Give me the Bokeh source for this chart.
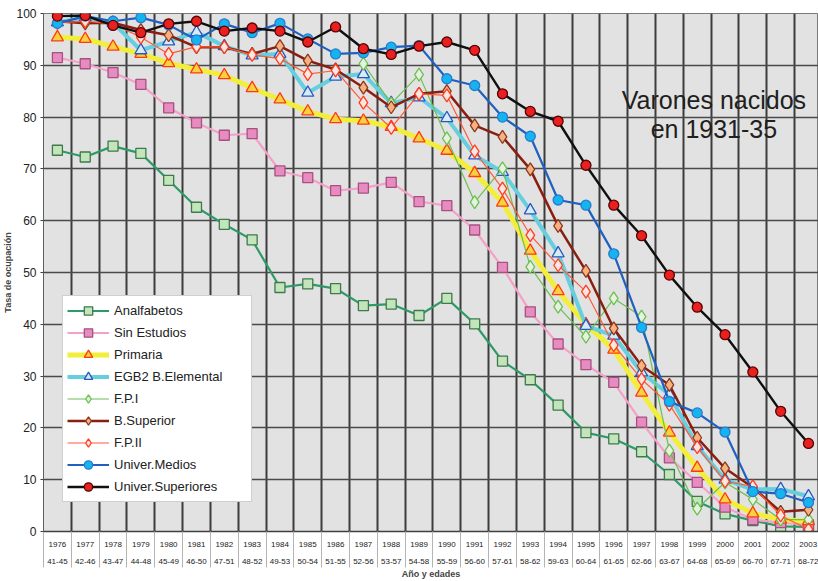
import numpy as np
from bokeh.plotting import figure
from bokeh.models import FixedTicker, Range1d, Legend, LegendItem, Label
from bokeh.embed import file_html
from bokeh.resources import INLINE

years = [str(y) for y in range(1976, 2004)]
ages = ["41-45", "42-46", "43-47", "44-48", "45-49", "46-50", "47-51", "48-52",
        "49-53", "50-54", "51-55", "52-56", "53-57", "54-58", "55-59", "56-60",
        "57-61", "58-62", "59-63", "60-64", "61-65", "62-66", "63-67", "64-68",
        "65-69", "66-70", "67-71", "68-72"]

analfabetos = [73.6, 72.3, 74.4, 73.0, 67.8, 62.6, 59.3, 56.3, 47.1, 47.8, 46.9, 43.6, 43.9, 41.7,
               45.0, 40.1, 32.9, 29.3, 24.4, 19.1, 17.9, 15.4, 11.0, 5.8, 3.4, 2.1, 1.0, 0.9]
sin_estudios = [91.5, 90.3, 88.6, 86.3, 81.8, 78.9, 76.5, 76.8, 69.6, 68.3, 65.8, 66.3, 67.4, 63.7,
                62.9, 58.2, 51.0, 42.4, 36.2, 32.2, 28.8, 21.1, 14.2, 9.5, 4.7, 2.3, 1.7, 1.3]
primaria = [95.4, 95.1, 93.6, 92.2, 90.4, 89.2, 88.1, 85.6, 83.4, 81.1, 79.6, 79.3, 78.1, 75.9,
            73.5, 69.2, 63.5, 54.2, 46.4, 40.0, 35.1, 26.8, 19.1, 12.3, 6.2, 3.5, 2.3, 2.0]
egb2 = [98.3, 99.2, 98.2, 92.9, 94.6, 96.4, 93.7, 91.9, 92.2, 84.7, 87.8, 88.3, 82.7, 83.8,
        79.8, 72.6, 69.4, 62.0, 53.7, 39.7, 37.8, 30.7, 26.4, 16.5, 10.0, 8.1, 8.2, 6.8]
fp1 = [None] * 11 + [90.3, 82.6, 88.2, 75.9, 63.6, 70.1, 51.1, 43.4, 37.6, 45.0, 41.5, 15.6, 4.4,
                     9.5, 6.2, 2.3, 2.3]
b_superior = [98.5, 98.1, 98.2, 96.8, 95.8, 93.5, 93.5, 92.2, 93.7, 90.9, 89.2, 85.7, 81.9, 84.5,
              85.0, 78.4, 76.2, 69.9, 59.0, 50.3, 39.2, 32.0, 28.3, 18.1, 12.2, 8.5, 3.8, 4.2]
fp2 = [98.2, 98.5, 98.0, 95.4, 92.2, 93.6, 93.5, 92.0, 91.3, 88.3, 89.0, 82.8, 77.9, 84.5,
       84.2, 73.4, 66.2, 57.2, 51.4, 46.3, 36.0, 29.4, 24.5, 16.3, 9.7, 8.7, 3.1, 0.4]
univ_medios = [98.1, 99.5, 98.5, 99.2, 97.8, 94.9, 98.0, 96.3, 98.1, 95.1, 92.2, 92.4, 93.5, 93.8,
               87.4, 86.1, 80.0, 76.3, 64.0, 63.0, 53.6, 39.4, 25.1, 22.9, 19.2, 7.7, 7.3, 5.6]
univ_superiores = [99.5, 99.6, 97.7, 96.3, 98.0, 98.5, 96.6, 97.2, 96.6, 94.5, 97.4, 93.2, 92.1, 93.7,
                   94.5, 92.9, 84.5, 81.1, 79.2, 70.7, 63.0, 57.1, 49.5, 43.3, 38.0, 30.8, 23.2, 17.0]

series = [
    ("Analfabetos", analfabetos, dict(line="#2e9a68", lw=2.2, marker="square", size=10,
                                      fill="#c4e4bc", edge="#3d7a4c")),
    ("Sin Estudios", sin_estudios, dict(line="#f4a0c8", lw=2.2, marker="square", size=10,
                                        fill="#e68cc0", edge="#a85080")),
    ("Primaria", primaria, dict(line="#f2ee3a", lw=5, marker="triangle", size=12,
                                fill="#f8d040", edge="#ff3a10")),
    ("EGB2 B.Elemental", egb2, dict(line="#66cede", lw=4, marker="triangle", size=12,
                                    fill="#d6ecf4", edge="#2858c0")),
    ("F.P.I", fp1, dict(line="#6cc050", lw=1.2, marker="diamond", size=13,
                        fill="#e6f2e0", edge="#6cc050")),
    ("B.Superior", b_superior, dict(line="#8a1e10", lw=2.5, marker="diamond", size=13,
                                    fill="#f8b080", edge="#8a3a1c")),
    ("F.P.II", fp2, dict(line="#ff5a3a", lw=1.2, marker="diamond", size=13,
                         fill="#fbe6e0", edge="#ff3c20")),
    ("Univer.Medios", univ_medios, dict(line="#2060c0", lw=2.2, marker="circle", size=10,
                                        fill="#14b4ee", edge="#2a7ad0")),
    ("Univer.Superiores", univ_superiores, dict(line="#101010", lw=2.4, marker="circle", size=10,
                                                fill="#e82020", edge="#5a0000")),
]

FONT = "Liberation Sans"
n = len(years)
xs = np.arange(n)

p = figure(width=818, height=581, output_backend="svg", toolbar_location=None,
           x_range=Range1d(-0.5, n - 0.64), y_range=Range1d(0, 100),
           min_border_top=13, min_border_right=0, min_border_left=10, min_border_bottom=49,
           background_fill_color="#e2e2e2", border_fill_color="white")
p.outline_line_color = "#7a7a7a"

# axes
yt = FixedTicker(ticks=list(range(0, 101, 10)))
p.yaxis.ticker = yt
p.yaxis.major_label_text_font = FONT
p.yaxis.major_label_text_font_size = "12px"
p.yaxis.major_label_text_color = "#222222"
p.yaxis.major_tick_out = 3
p.yaxis.major_tick_in = 0
p.yaxis.minor_tick_line_color = None
p.yaxis.major_label_standoff = 4
p.yaxis.axis_line_color = "#606060"
p.yaxis.major_tick_line_color = "#404040"
p.yaxis.axis_label = "Tasa de ocupación"
p.yaxis.axis_label_text_font = FONT
p.yaxis.axis_label_text_font_size = "9px"
p.yaxis.axis_label_text_font_style = "bold"
p.yaxis.axis_label_standoff = 0

xt = FixedTicker(ticks=list(range(n)), minor_ticks=[i - 0.5 for i in range(n + 1)])
p.xaxis.ticker = xt
p.xaxis.major_label_overrides = {i: f"{years[i]}\n{ages[i]}" for i in range(n)}
p.xaxis.major_label_text_font = FONT
p.xaxis.major_label_text_font_size = "8px"
p.xaxis.major_label_text_line_height = 1.9
p.xaxis.major_label_text_color = "#222222"
p.xaxis.major_tick_out = 0
p.xaxis.major_tick_in = 0
p.xaxis.minor_tick_out = 36
p.xaxis.minor_tick_in = 0
p.xaxis.minor_tick_line_color = "#b4b4b4"
p.xaxis.minor_tick_line_width = 1
p.xaxis.axis_line_color = "#404040"
p.xaxis.axis_line_width = 1.5
p.xaxis.major_label_standoff = -28
p.xaxis.axis_label = "Año y edades"
p.xaxis.axis_label_text_font = FONT
p.xaxis.axis_label_text_font_size = "9px"
p.xaxis.axis_label_text_font_style = "bold"
p.xaxis.axis_label_standoff = 0

# grids
p.ygrid.ticker = yt
p.ygrid.grid_line_color = "#4a4a4a"
p.ygrid.grid_line_width = 1.5
p.xgrid.ticker = FixedTicker(ticks=[i - 0.5 for i in range(n + 1)])
p.xgrid.grid_line_color = "#3c3c3c"
p.xgrid.grid_line_width = 2

items = []
for name, vals, st in series:
    ys = np.array([np.nan if v is None else v for v in vals], dtype=float)
    r1 = p.line(xs, ys, line_color=st["line"], line_width=st["lw"])
    r2 = p.scatter(xs, ys, marker=st["marker"], size=st["size"], fill_color=st["fill"],
                   line_color=st["edge"], line_width=1.3)
    items.append(LegendItem(label=name, renderers=[r1, r2]))

legend = Legend(items=items, location=(19, 29), label_text_font=FONT,
                label_text_font_size="13px", label_text_color="#222222",
                glyph_width=42, glyph_height=21, label_height=21, label_width=133,
                spacing=1, padding=4, label_standoff=5, margin=0,
                background_fill_color="white", background_fill_alpha=1.0,
                border_line_color="#a0a0a0", border_line_width=1)
p.add_layout(legend, "center")

title = Label(x=23.6, y=80.5, text="Varones nacidos\nen 1931-35", text_font=FONT,
              text_font_size="25px", text_color="#202020", text_align="center",
              text_baseline="middle", text_line_height=1.05)
p.add_layout(title)

open("out.html", "w").write(file_html(p, INLINE))
